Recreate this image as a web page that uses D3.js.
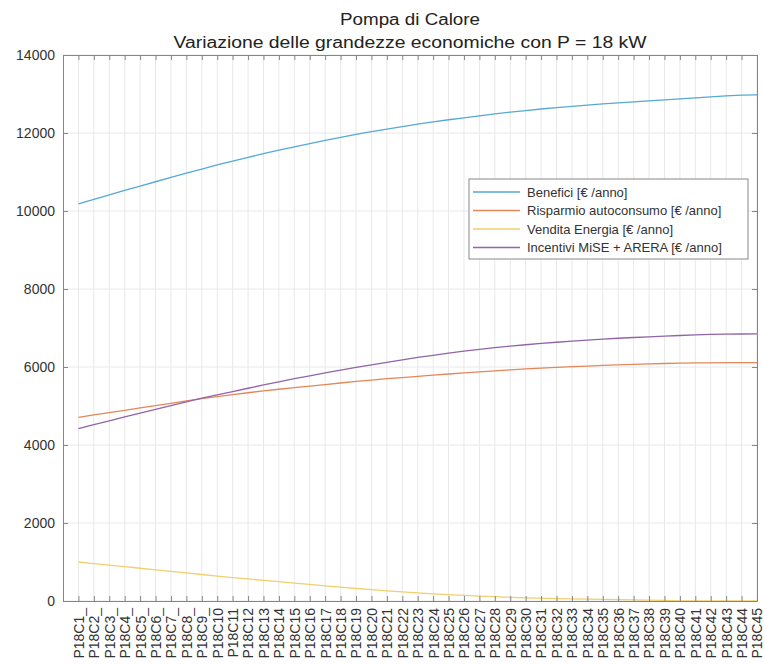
<!DOCTYPE html>
<html>
<head>
<meta charset="utf-8">
<script src="https://cdn.jsdelivr.net/npm/d3@7"></script>
<style>
  body { margin: 0; background: #fff; }
  text { font-family: "Liberation Sans", Arial, sans-serif; }
</style>
</head>
<body>
<div id="chart"></div>
<script>
// categories P18C1 ... P18C45 (first nine keep the trailing underscore as drawn)
const categories = [
  "P18C1_", "P18C2_", "P18C3_", "P18C4_", "P18C5_", "P18C6_", "P18C7_", "P18C8_", "P18C9_",
  "P18C10", "P18C11", "P18C12", "P18C13", "P18C14", "P18C15", "P18C16", "P18C17", "P18C18",
  "P18C19", "P18C20", "P18C21", "P18C22", "P18C23", "P18C24", "P18C25", "P18C26", "P18C27",
  "P18C28", "P18C29", "P18C30", "P18C31", "P18C32", "P18C33", "P18C34", "P18C35", "P18C36",
  "P18C37", "P18C38", "P18C39", "P18C40", "P18C41", "P18C42", "P18C43", "P18C44", "P18C45"
];

const benefici = [
  10180, 10300, 10415, 10530, 10640, 10750, 10860, 10970, 11075, 11180,
  11280, 11375, 11470, 11560, 11645, 11730, 11810, 11890, 11965, 12035,
  12100, 12165, 12225, 12285, 12340, 12390, 12440, 12490, 12535, 12575,
  12615, 12650, 12685, 12715, 12745, 12775, 12800, 12825, 12850, 12875,
  12900, 12925, 12950, 12970, 12980
];
const risparmio = [
  4710, 4770, 4830, 4890, 4950, 5010, 5070, 5130, 5190, 5240,
  5290, 5340, 5390, 5430, 5470, 5510, 5550, 5590, 5630, 5665,
  5700, 5730, 5760, 5790, 5820, 5850, 5875, 5900, 5925, 5950,
  5970, 5990, 6010, 6025, 6040, 6055, 6068, 6080, 6090, 6098,
  6104, 6108, 6110, 6110, 6110
];
const vendita = [
  1000, 960, 920, 880, 840, 800, 760, 720, 680, 640,
  600, 565, 530, 495, 460, 425, 390, 355, 320, 290,
  260, 235, 210, 185, 165, 145, 125, 110, 95, 82,
  72, 63, 55, 48, 42, 36, 30, 25, 15, 5,
  0, 0, 0, 0, 0
];
const incentivi = [
  4420, 4520, 4620, 4720, 4820, 4915, 5010, 5105, 5200, 5285,
  5370, 5455, 5540, 5620, 5700, 5775, 5850, 5920, 5990, 6055,
  6120, 6185, 6245, 6300, 6355, 6405, 6450, 6495, 6535, 6570,
  6605, 6635, 6665, 6690, 6715, 6737, 6757, 6775, 6792, 6808,
  6822, 6834, 6842, 6846, 6848
];

const yTicks = [0, 2000, 4000, 6000, 8000, 10000, 12000, 14000];

const seriesNames = [
  "Benefici [€ /anno]",
  "Risparmio autoconsumo [€ /anno]",
  "Vendita Energia [€ /anno]",
  "Incentivi MiSE + ARERA [€ /anno]"
];
const seriesData = [benefici, risparmio, vendita, incentivi];
const colors = ["#55a9d4", "#e4875a", "#f1cf6e", "#9164a8"];

const W = 764, H = 666;
const margin = { top: 55, right: 7, bottom: 65, left: 63 };
const width = W - margin.left - margin.right,
    height = H - margin.top - margin.bottom;

const svg = d3.select("#chart")
    .append("svg")
    .attr("width", W)
    .attr("height", H);

const g = svg.append("g")
    .attr("transform", `translate(${margin.left}, ${margin.top})`);

// x: category index, one empty slot before the first category
const x = d3.scaleLinear()
    .domain([0, categories.length])
    .range([0, width]);

const y = d3.scaleLinear()
    .domain([0, 14000])
    .range([height, 0]);

// grid
g.append("g")
    .selectAll("line")
    .data(categories)
    .join("line")
    .attr("x1", (d, i) => x(i + 1))
    .attr("x2", (d, i) => x(i + 1))
    .attr("y1", 0)
    .attr("y2", height)
    .attr("stroke", "#e8e8e8")
    .attr("stroke-width", 1);

g.append("g")
    .selectAll("line")
    .data(yTicks)
    .join("line")
    .attr("x1", 0)
    .attr("x2", width)
    .attr("y1", d => y(d))
    .attr("y2", d => y(d))
    .attr("stroke", "#e8e8e8")
    .attr("stroke-width", 1);

// lines
const line = d3.line()
    .x((d, i) => x(i + 1))
    .y(d => y(d));

g.append("g")
    .selectAll("path")
    .data(seriesData)
    .join("path")
    .attr("fill", "none")
    .attr("stroke", (d, i) => colors[i])
    .attr("stroke-width", 1.3)
    .attr("d", d => line(d));

// axes (box with inward ticks)
const axisColor = "#858585";
const tickVals = categories.map((d, i) => i + 1);

const xBottom = g.append("g")
    .attr("transform", `translate(0, ${height})`)
    .call(d3.axisBottom(x).tickValues(tickVals).tickSizeInner(-5).tickSizeOuter(0)
        .tickFormat((d) => categories[d - 1]));
xBottom.selectAll("text")
    .attr("transform", "rotate(-90)")
    .style("text-anchor", "end")
    .attr("x", -7)
    .attr("y", 0)
    .attr("dy", "0.35em")
    .attr("font-size", 14)
    .attr("fill", "#333");

g.append("g")
    .call(d3.axisTop(x).tickValues(tickVals).tickSizeInner(-5).tickSizeOuter(0).tickFormat(""));

g.append("g")
    .call(d3.axisLeft(y).tickValues(yTicks).tickSizeInner(-5).tickSizeOuter(0).tickFormat(d3.format("d")))
    .selectAll("text")
    .attr("x", -8)
    .attr("font-size", 14)
    .attr("fill", "#333");

g.append("g")
    .attr("transform", `translate(${width}, 0)`)
    .call(d3.axisRight(y).tickValues(yTicks).tickSizeInner(-5).tickSizeOuter(0).tickFormat(""));

g.selectAll(".domain").attr("stroke", axisColor);
g.selectAll(".tick line").attr("stroke", axisColor);
g.selectAll(".tick text").attr("font-family", "\"Liberation Sans\", Arial, sans-serif");

// title
svg.append("text")
    .attr("x", margin.left + width / 2)
    .attr("y", 25)
    .attr("text-anchor", "middle")
    .attr("font-size", 16)
    .attr("fill", "#222")
    .attr("textLength", 140)
    .attr("lengthAdjust", "spacingAndGlyphs")
    .text("Pompa di Calore");

svg.append("text")
    .attr("x", margin.left + width / 2)
    .attr("y", 48)
    .attr("text-anchor", "middle")
    .attr("font-size", 16)
    .attr("fill", "#222")
    .attr("textLength", 473)
    .attr("lengthAdjust", "spacingAndGlyphs")
    .text("Variazione delle grandezze economiche con P = 18 kW");

// legend
const legend = svg.append("g")
    .attr("transform", "translate(469, 179)");

legend.append("rect")
    .attr("width", 279)
    .attr("height", 80)
    .attr("fill", "#fff")
    .attr("stroke", "#888");

const legRows = legend.selectAll("g.row")
    .data(seriesNames)
    .join("g")
    .attr("class", "row")
    .attr("transform", (d, i) => `translate(0, ${13 + i * 18.5})`);

legRows.append("line")
    .attr("x1", 4)
    .attr("x2", 51)
    .attr("stroke", (d, i) => colors[i])
    .attr("stroke-width", 1.3);

legRows.append("text")
    .attr("x", 58)
    .attr("dy", "0.35em")
    .attr("font-size", 13)
    .attr("fill", "#333")
    .text(d => d);
</script>
</body>
</html>
